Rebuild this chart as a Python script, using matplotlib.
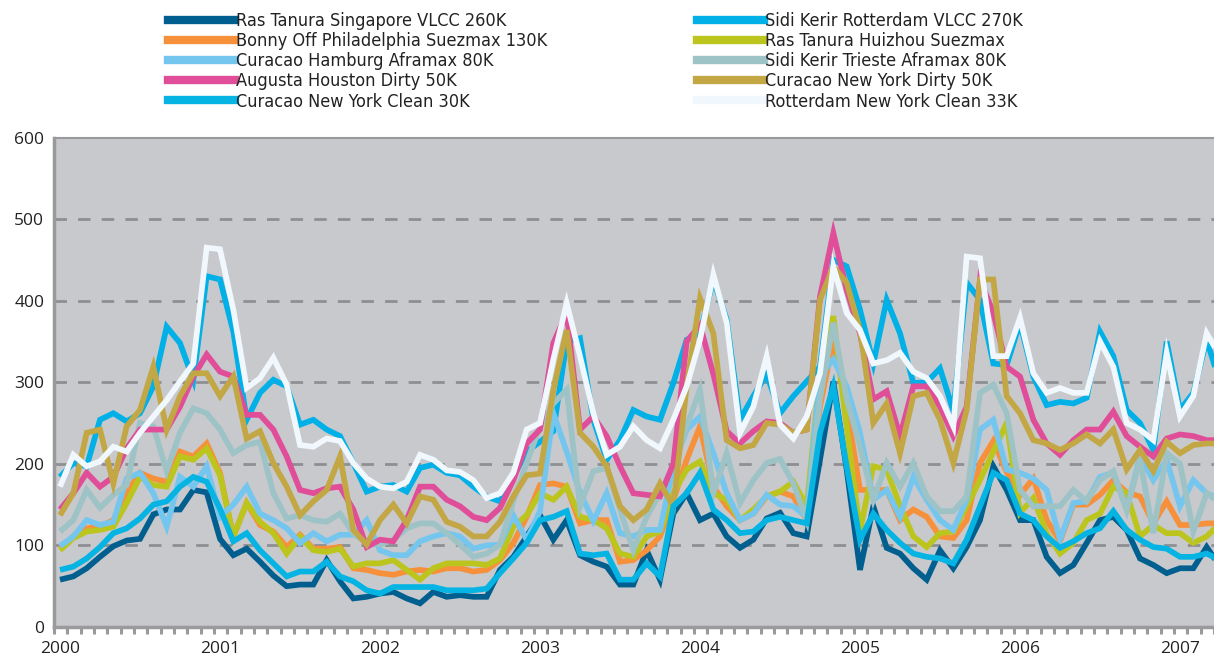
import numpy as np
import matplotlib
matplotlib.use("Agg")
import matplotlib.pyplot as plt
from matplotlib.lines import Line2D
from matplotlib import font_manager as fm

# ---------------- data (monthly, Jan 2000 onwards) ----------------
ras_tanura_singapore = [58, 62, 72, 86, 99, 106, 108, 138, 144, 144, 168,
    165, 108, 88, 96, 80, 63, 50, 52, 52, 82, 56,
    35, 37, 41, 43, 35, 29, 43, 37, 39, 37,
    37, 70, 86, 111, 137, 107, 131, 88, 80, 74, 52,
    52, 94, 58, 139, 164, 131, 139, 111, 97, 107, 133,
    140, 115, 111, 205, 301, 193, 70, 148, 97, 90, 72,
    58, 94, 72, 98, 131, 197, 168, 131, 131, 86, 66,
    76, 103, 131, 135, 119, 84, 76, 66, 72, 72, 98, 74]
sidi_kerir_rotterdam = [184, 201, 197, 254, 262, 252, 262, 295, 368, 348, 303,
    430, 426, 362, 254, 287, 303, 295, 248, 254, 242, 234,
    201, 166, 172, 174, 166, 195, 199, 189, 186, 172,
    160, 154, 184, 215, 227, 240, 350, 354, 254, 205, 229,
    266, 258, 254, 299, 352, 360, 426, 377, 254, 283, 310,
    262, 283, 301, 319, 450, 442, 389, 323, 401, 360, 299,
    300, 317, 265, 422, 401, 323, 321, 373, 307, 272, 276,
    274, 281, 362, 332, 266, 250, 217, 350, 266, 287, 352, 299]
bonny_philadelphia = [97, 111, 121, 123, 131, 164, 189, 182, 178, 215, 209,
    225, 189, 111, 152, 125, 117, 98, 113, 96, 96, 98,
    72, 70, 66, 64, 68, 70, 68, 72, 72, 68,
    70, 82, 103, 135, 174, 176, 172, 127, 131, 131, 80,
    82, 94, 111, 156, 205, 246, 172, 148, 131, 139, 160,
    166, 160, 131, 270, 352, 270, 168, 168, 168, 131, 144,
    135, 111, 109, 131, 201, 228, 190, 162, 182, 131, 105,
    150, 150, 162, 180, 165, 160, 127, 154, 125, 125, 127, 127]
ras_tanura_huizhou = [94, 109, 117, 119, 123, 152, 184, 174, 172, 209, 205,
    219, 186, 111, 152, 129, 115, 90, 111, 94, 92, 96,
    74, 78, 78, 82, 70, 58, 72, 78, 78, 78,
    76, 84, 123, 137, 164, 156, 172, 135, 131, 121, 90,
    86, 111, 117, 164, 193, 203, 164, 156, 131, 144, 160,
    166, 178, 148, 311, 381, 245, 118, 197, 193, 148, 111,
    98, 115, 117, 148, 180, 215, 250, 140, 158, 115, 90,
    103, 131, 139, 172, 164, 111, 125, 115, 115, 103, 111, 127]
curacao_hamburg = [99, 111, 131, 125, 129, 182, 189, 164, 123, 184, 172,
    197, 135, 150, 172, 139, 131, 121, 103, 115, 105, 113,
    113, 131, 94, 88, 88, 105, 111, 115, 111, 96,
    100, 101, 137, 107, 142, 262, 215, 165, 130, 164, 115,
    111, 119, 119, 197, 242, 258, 213, 164, 131, 139, 162,
    150, 148, 135, 307, 328, 295, 238, 156, 168, 135, 184,
    156, 131, 119, 156, 242, 254, 193, 189, 182, 168, 107,
    152, 154, 184, 189, 144, 209, 180, 205, 148, 180, 164, 156]
sidi_kerir_trieste = [117, 131, 168, 146, 162, 174, 250, 246, 191, 238, 268,
    262, 242, 213, 223, 227, 164, 133, 137, 131, 129, 139,
    115, 103, 101, 107, 121, 127, 127, 115, 101, 86,
    90, 101, 154, 201, 246, 274, 291, 148, 191, 195, 144,
    94, 135, 164, 197, 246, 291, 164, 213, 152, 180, 201,
    206, 176, 131, 279, 373, 279, 221, 156, 201, 172, 201,
    160, 142, 142, 160, 287, 297, 262, 168, 148, 148, 148,
    168, 154, 180, 191, 144, 205, 115, 213, 200, 117, 164, 152]
augusta_houston = [144, 164, 189, 172, 184, 219, 242, 242, 242, 270, 307,
    334, 313, 307, 260, 260, 242, 209, 168, 164, 170, 172,
    144, 98, 107, 105, 131, 172, 172, 156, 148, 135,
    131, 146, 180, 225, 242, 348, 385, 242, 258, 234, 197,
    164, 162, 160, 200, 350, 370, 310, 240, 225, 240, 252,
    250, 238, 242, 405, 483, 413, 360, 279, 289, 234, 295,
    295, 270, 234, 270, 426, 385, 319, 307, 254, 225, 211,
    229, 242, 242, 264, 234, 221, 209, 231, 236, 234, 229, 229]
curacao_ny_dirty = [137, 164, 238, 242, 176, 246, 266, 319, 242, 283, 311,
    311, 283, 307, 231, 240, 201, 172, 137, 154, 168, 209,
    119, 101, 131, 150, 127, 160, 156, 129, 123, 111,
    111, 129, 160, 186, 188, 290, 364, 238, 221, 197, 148,
    131, 144, 176, 148, 295, 403, 360, 229, 219, 223, 250,
    248, 238, 242, 401, 442, 422, 364, 250, 274, 213, 283,
    287, 254, 201, 266, 426, 426, 283, 262, 229, 225, 217,
    225, 236, 225, 242, 193, 217, 191, 227, 213, 223, 225, 225]
curacao_ny_clean = [70, 74, 84, 98, 115, 121, 133, 150, 154, 172, 184,
    178, 145, 105, 115, 94, 78, 62, 68, 68, 80, 62,
    56, 45, 41, 49, 49, 49, 49, 45, 45, 45,
    47, 66, 84, 103, 131, 135, 142, 90, 88, 90, 58,
    58, 78, 62, 148, 164, 189, 144, 131, 115, 117, 131,
    135, 131, 127, 238, 295, 197, 107, 139, 119, 103, 90,
    86, 84, 78, 107, 148, 189, 180, 139, 131, 111, 97,
    105, 115, 121, 142, 119, 107, 98, 96, 86, 86, 90, 82]
rotterdam_ny_clean = [172, 211, 197, 203, 221, 215, 238, 258, 278, 301, 323,
    465, 463, 389, 293, 305, 330, 297, 223, 221, 231, 228,
    201, 182, 172, 170, 178, 211, 205, 192, 190, 180,
    158, 164, 189, 242, 250, 328, 397, 332, 262, 211, 221,
    246, 229, 219, 254, 295, 352, 432, 373, 238, 270, 332,
    248, 231, 258, 311, 442, 385, 364, 323, 327, 336, 313,
    305, 283, 246, 454, 452, 332, 332, 379, 311, 287, 293,
    287, 287, 350, 319, 250, 242, 229, 336, 258, 283, 360, 332]

series_names = ["Ras Tanura Singapore VLCC 260K", "Sidi Kerir Rotterdam VLCC 270K",
                "Bonny Off Philadelphia Suezmax 130K", "Ras Tanura Huizhou Suezmax",
                "Curacao Hamburg Aframax 80K", "Sidi Kerir Trieste Aframax 80K",
                "Augusta Houston Dirty 50K", "Curacao New York Dirty 50K",
                "Curacao New York Clean 30K", "Rotterdam New York Clean 33K"]
series_values = [ras_tanura_singapore, sidi_kerir_rotterdam, bonny_philadelphia,
                 ras_tanura_huizhou, curacao_hamburg, sidi_kerir_trieste,
                 augusta_houston, curacao_ny_dirty, curacao_ny_clean, rotterdam_ny_clean]
years = [2000, 2001, 2002, 2003, 2004, 2005, 2006, 2007]
y_ticks = [0, 100, 200, 300, 400, 500, 600]

colors = ["#005f8e", "#00b0e6", "#f7903a", "#bcc41e", "#74c6ee",
          "#9dc3c6", "#e04d99", "#c2a744", "#06b4e4", "#f0f7fd"]

# ---------------- figure ----------------
W, H = 1214, 659
fig = plt.figure(figsize=(W / 100, H / 100), dpi=100)
ax = fig.add_axes([54 / W, (H - 627) / H, (1214 - 54) / W, (627 - 137.5) / H])
ax.set_facecolor("#c8c9cd")

for name, vals, col in zip(series_names, series_values, colors):
    n = len(vals)
    x = 2000 + (np.arange(n) + 0.45) / 12.0
    ax.plot(x, vals, color=col, lw=4.1, solid_joinstyle="miter",
            solid_capstyle="butt", label=name, zorder=3)

ax.set_xlim(2000, 2007 + 3 / 12)
ax.set_ylim(0, 600)

for v in y_ticks[1:-1]:
    ax.axhline(v, color="#8e8f93", lw=2.0, dashes=(4.5, 4.0), zorder=1)

ax.set_yticks(y_ticks)
ax.set_yticklabels([str(v) for v in y_ticks])
ax.tick_params(axis="y", length=0, pad=7, labelsize=12.5, labelcolor="#222222")

ax.set_xticks([y + 0.45 / 12 for y in years])
ax.set_xticklabels([str(y) for y in years])
ax.set_xticks(2000 + np.arange(0, 88) / 12.0, minor=True)
ax.tick_params(axis="x", which="major", length=0, pad=10, labelsize=12.5,
               labelcolor="#222222")
ax.tick_params(axis="x", which="minor", length=5, width=2.2, color="#9a9a9c",
               direction="out")

for s in ["left", "bottom"]:
    ax.spines[s].set_color("#9a9a9c")
    ax.spines[s].set_linewidth(2.5)
ax.spines["top"].set_color("#9a9a9c")
ax.spines["top"].set_linewidth(1.5)
ax.spines["right"].set_visible(False)

for lab in ax.get_xticklabels() + ax.get_yticklabels():
    lab.set_fontfamily(["Open Sans", "DejaVu Sans"])

# ---------------- legend (two columns) ----------------
leg_font = fm.FontProperties(family=["DejaVu Sans"], stretch="condensed", size=13)
left_idx = [0, 2, 4, 6, 8]
right_idx = [1, 3, 5, 7, 9]
for idx, xpx in [(left_idx, 168), (right_idx, 697)]:
    hs = [Line2D([], [], color=colors[i], lw=6) for i in idx]
    lg = fig.legend(hs, [series_names[i] for i in idx], loc="upper left",
                    bbox_to_anchor=(xpx / W, 1 - 12 / H), frameon=False,
                    prop=leg_font, handlelength=3.7, handletextpad=0.05,
                    labelspacing=0.12, borderpad=0, borderaxespad=0)
    for t in lg.get_texts():
        t.set_color("#222222")

fig.savefig("out.png", dpi=100)
